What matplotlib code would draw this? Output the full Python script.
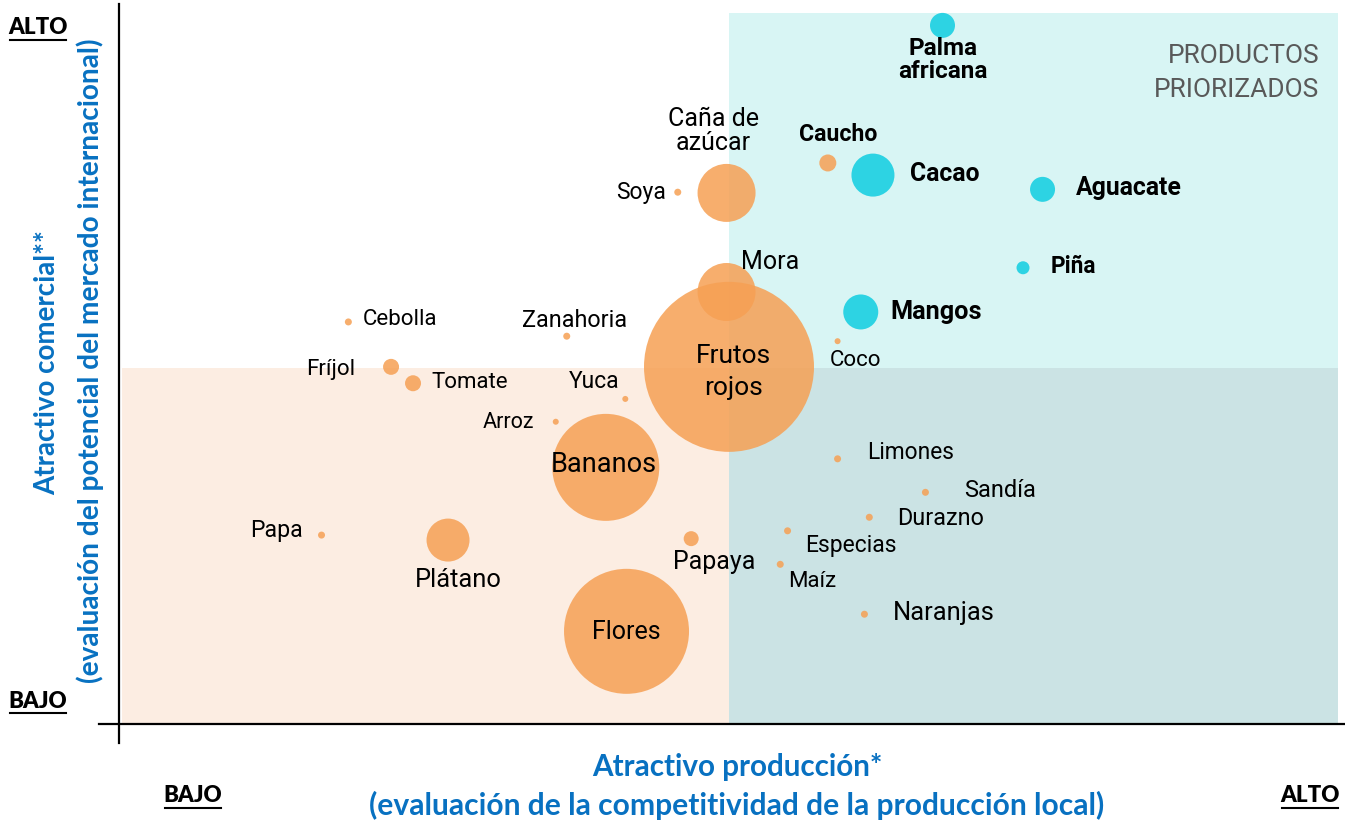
import matplotlib
matplotlib.use("Agg")
import matplotlib.pyplot as plt
from matplotlib.patches import Rectangle
from matplotlib.lines import Line2D

# Datos: atractivo produccion (x, 0-100), atractivo comercial (y, 0-100), tamano relativo
productos = ['Palma\nafricana', 'Caucho', 'Cacao', 'Aguacate', 'Caña de\nazúcar', 'Soya',
             'Mora', 'Piña', 'Mangos', 'Cebolla', 'Zanahoria', 'Frutos\nrojos', 'Coco',
             'Fríjol', 'Tomate', 'Yuca', 'Arroz', 'Bananos', 'Limones', 'Sandía',
             'Durazno', 'Papa', 'Especias', 'Papaya', 'Plátano', 'Maíz', 'Naranjas', 'Flores']
x_prod = [67.5, 58.1, 61.8, 75.7, 49.8, 45.8, 49.8, 74.1, 60.8, 18.8, 36.7, 50.0, 58.9,
          22.3, 24.1, 41.5, 35.8, 39.9, 58.9, 66.1, 61.5, 16.6, 54.8, 46.9, 26.97, 54.2, 61.1, 41.6]
y_com = [98.0, 78.7, 77.0, 75.0, 74.5, 74.6, 60.6, 64.0, 57.8, 56.4, 54.4, 50.1, 53.7,
         50.1, 47.8, 45.6, 42.4, 36.0, 37.2, 32.5, 29.0, 26.5, 27.1, 26.0, 25.8, 22.4, 15.4, 13.0]
tamano = [25, 17, 43, 25, 58, 7, 58, 13, 35, 7, 7, 170, 6,
          16, 16, 6, 6, 107, 7, 7, 7, 7, 7, 15, 43, 7, 7, 125]
priorizado = ['Palma\nafricana', 'Cacao', 'Aguacate', 'Piña', 'Mangos']

# Ubicacion de etiquetas (desplazamiento en px, alineacion)
etiquetas = {
    'Palma\nafricana': (0, -35, 'center'), 'Caucho': (10, 28, 'center'),
    'Cacao': (37, 1, 'left'), 'Aguacate': (33, 1, 'left'),
    'Caña de\nazúcar': (-13, 62, 'center'), 'Soya': (-12, 0, 'right'),
    'Mora': (14, 30, 'left'), 'Piña': (28, 1, 'left'), 'Mangos': (30, 0, 'left'),
    'Cebolla': (14, 2, 'left'), 'Zanahoria': (8, 16, 'center'),
    'Frutos\nrojos': (4, -5, 'center'), 'Coco': (-8, -19, 'left'),
    'Fríjol': (-36, -3, 'right'), 'Tomate': (18, 1, 'left'), 'Yuca': (-31, 17, 'center'),
    'Arroz': (-22, -1, 'right'), 'Bananos': (-2, 3, 'center'), 'Limones': (30, 6, 'left'),
    'Sandía': (39, 2, 'left'), 'Durazno': (28, -1, 'left'), 'Papa': (-19, 5, 'right'),
    'Especias': (18, -15, 'left'), 'Papaya': (23, -23, 'center'),
    'Plátano': (10, -40, 'center'), 'Maíz': (8, -17, 'left'),
    'Naranjas': (28, 1, 'left'), 'Flores': (0, -1, 'center'),
}
negritas = priorizado + ['Caucho']
tam_letra = {'Palma\nafricana': 17.5, 'Caucho': 16.7, 'Cacao': 17.8, 'Aguacate': 17.8,
             'Caña de\nazúcar': 18, 'Soya': 16.5, 'Mora': 18, 'Piña': 16.3, 'Mangos': 18.2,
             'Zanahoria': 16.8, 'Frutos\nrojos': 19, 'Yuca': 16.5, 'Arroz': 15.5,
             'Bananos': 19.5, 'Limones': 16.4, 'Sandía': 17, 'Durazno': 16.8, 'Papa': 16.7,
             'Especias': 16.5, 'Papaya': 18, 'Plátano': 18.4, 'Naranjas': 18.4, 'Flores': 18}

LETRA = ['Roboto', 'DejaVu Sans']
AZUL = '#0871c1'
NARANJA = '#f6a054'
CIAN = '#2dd3e3'

W, H = 1345, 824
fig = plt.figure(figsize=(W / 100, H / 100), dpi=100)
ax = fig.add_axes([119 / W, 100 / H, 1220 / W, 720 / H])
ax.set_xlim(0, 100)
ax.set_ylim(0, 101)
ax.axis('off')

# cuadrantes
ax.add_patch(Rectangle((0.25, 0), 49.75, 50, facecolor='#fcede2', edgecolor='none', zorder=0))
ax.add_patch(Rectangle((50, 50), 49.9, 49.7, facecolor='#d8f5f4', edgecolor='none', zorder=0))
ax.add_patch(Rectangle((50, 0), 49.9, 50, facecolor='#cbe3e4', edgecolor='none', zorder=0))

# ejes
ax.add_line(Line2D([-1.6, 100.5], [0, 0], color='black', lw=1.6, clip_on=False, zorder=1))
ax.add_line(Line2D([0, 0], [-2.7, 101], color='black', lw=1.6, clip_on=False, zorder=1))

px2pt = 0.72
for nombre, xv, yv, t in zip(productos, x_prod, y_com, tamano):
    es_p = nombre in priorizado
    ax.scatter(xv, yv, s=(t * px2pt) ** 2, color=CIAN if es_p else NARANJA,
               alpha=1.0 if es_p else 0.85, edgecolors='none', zorder=2)
    dx, dy, ha = etiquetas[nombre]
    ax.annotate(nombre, (xv, yv), xytext=(dx * px2pt, dy * px2pt), textcoords='offset points',
                ha=ha, va='center', fontsize=tam_letra.get(nombre, 16),
                fontweight='bold' if nombre in negritas else 'normal',
                family=LETRA, color='black',
                linespacing=1.45 if nombre == 'Frutos\nrojos' else 1.0, zorder=3)

ax.text(98.4, 91.3, 'PRODUCTOS\nPRIORIZADOS', ha='right', va='center', fontsize=19,
        color='#595959', family=LETRA, linespacing=1.55, zorder=3)

# titulos de ejes
fig.text(737 / W, 1 - 767 / H, 'Atractivo producción*', ha='center', va='center',
         fontsize=21.3, fontweight='bold', color=AZUL, family='Lato')
fig.text(737 / W, 1 - 805 / H, '(evaluación de la competitividad de la producción local)',
         ha='center', va='center', fontsize=21.6, fontweight='bold', color=AZUL, family='Lato')
fig.text(47 / W, 1 - 363 / H, 'Atractivo comercial**', ha='center', va='center', rotation=90,
         fontsize=20, fontweight='bold', color=AZUL, family='Lato')
fig.text(90 / W, 1 - 361 / H, '(evaluación del potencial del mercado internacional)',
         ha='center', va='center', rotation=90, fontsize=20.2, fontweight='bold', color=AZUL,
         family='Lato')

# ALTO / BAJO subrayados
for txt, cx, cy in [('ALTO', 38, 28), ('BAJO', 38, 701), ('BAJO', 193, 796), ('ALTO', 1310, 796)]:
    fig.text(cx / W, 1 - cy / H, txt, ha='center', va='center', fontsize=16,
             fontweight='heavy', color='black', family='Lato')
    fig.add_artist(Line2D([(cx - 28) / W, (cx + 28) / W], [1 - (cy + 12) / H] * 2,
                          color='black', lw=1.5))

fig.savefig('out.png', dpi=100)
